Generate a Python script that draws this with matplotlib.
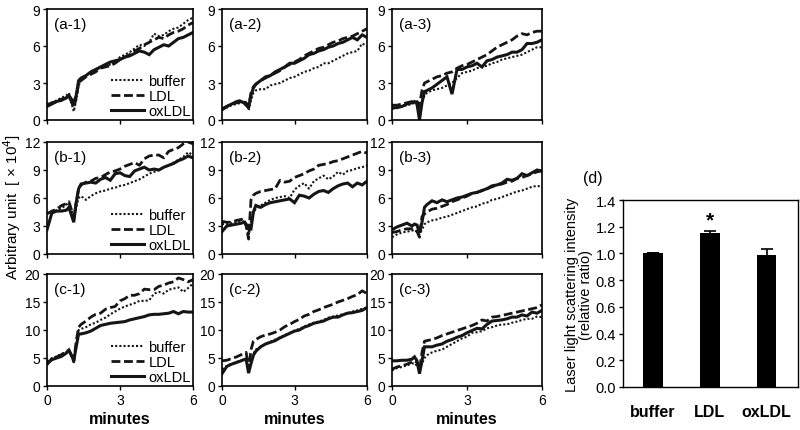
import matplotlib
matplotlib.use("Agg")
import matplotlib.pyplot as plt

plt.rcParams['font.family'] = ['Liberation Sans', 'DejaVu Sans']

# time points (minutes)
t = [0, 0.2, 0.4, 0.6, 0.8, 0.9, 1.0, 1.1, 1.2, 1.3, 1.4, 1.6, 1.8, 2.0, 2.2, 2.4,
     2.6, 2.8, 3.0, 3.2, 3.4, 3.6, 3.8, 4.0, 4.2, 4.4, 4.6, 4.8, 5.0, 5.2, 5.4, 5.6, 5.8, 6.0]

series_names = ["buffer", "LDL", "oxLDL"]

a1_buffer = [1.3,1.4,1.6,1.8,2.0,2.2,1.4,0.7,1.6,2.8,3.2,3.6,3.9,4.0,4.3,4.4,4.5,4.7,5.1,5.3,5.5,5.8,6.1,6.0,6.3,7.0,6.8,6.9,7.2,7.4,7.5,7.8,8.1,8.3]
a1_ldl    = [1.2,1.4,1.5,1.7,1.8,1.9,1.5,1.0,1.8,3.0,3.2,3.5,3.7,3.9,4.2,4.3,4.4,4.6,4.9,5.1,5.3,5.6,5.8,6.1,6.3,6.5,6.7,6.6,6.9,7.1,7.2,7.4,7.7,7.9]
a1_ox     = [1.1,1.3,1.5,1.6,1.8,2.0,1.7,1.4,2.0,3.2,3.4,3.6,3.9,4.1,4.3,4.5,4.7,4.8,4.9,5.1,5.2,5.4,5.6,5.5,5.3,5.7,5.9,6.1,6.0,6.3,6.6,6.7,6.9,7.1]

a2_buffer = [0.9,1.0,1.2,1.3,1.4,1.4,1.2,0.9,1.6,2.2,2.4,2.5,2.5,2.8,2.9,3.0,3.2,3.4,3.5,3.7,3.9,4.0,4.2,4.3,4.6,4.6,4.8,5.0,5.2,5.4,5.5,5.6,6.2,6.0]
a2_ldl    = [0.8,1.1,1.3,1.5,1.6,1.5,1.4,1.1,2.2,2.7,2.9,3.2,3.4,3.6,3.8,4.0,4.3,4.5,4.7,4.9,5.2,5.4,5.6,5.8,5.9,6.1,6.3,6.4,6.6,6.7,6.8,7.0,7.2,7.4]
a2_ox     = [0.9,1.1,1.3,1.4,1.5,1.4,1.2,1.0,2.0,2.6,2.9,3.2,3.5,3.6,3.9,4.1,4.3,4.6,4.6,4.8,5.0,5.3,5.4,5.6,5.7,5.9,6.0,6.2,6.3,6.5,6.7,6.5,6.9,6.7]

a3_buffer = [0.9,1.0,1.1,1.2,1.3,1.4,1.3,1.0,1.4,2.0,2.2,2.4,2.5,2.6,2.8,3.0,3.4,3.8,3.9,4.0,4.2,4.3,4.4,4.6,4.7,4.9,5.0,5.1,5.2,5.3,5.5,5.7,5.9,5.9]
a3_ldl    = [1.2,1.2,1.3,1.4,1.5,1.6,1.5,1.2,2.4,3.0,3.1,3.3,3.5,3.6,3.8,3.9,4.2,4.4,4.5,4.7,4.9,5.1,5.3,5.6,5.9,6.1,6.3,6.5,6.8,7.0,6.9,7.1,7.2,7.2]
a3_ox     = [1.0,1.0,1.1,1.3,1.4,1.5,1.3,0.0,1.4,2.3,2.4,2.6,2.9,3.2,3.5,2.1,4.1,4.1,4.3,4.4,4.6,4.3,4.8,4.9,5.1,5.2,5.3,5.5,5.5,5.7,6.2,6.2,6.3,6.5]

b1_buffer = [4.4,4.5,4.7,4.9,5.3,5.5,4.8,4.0,5.0,6.0,6.2,5.8,6.2,6.5,6.7,6.8,7.0,7.1,7.3,7.4,7.6,7.8,8.0,8.3,8.6,8.8,9.0,9.3,9.5,9.8,10.1,10.4,10.9,10.6]
b1_ldl    = [4.3,4.6,4.8,5.2,5.4,5.6,4.8,3.8,5.5,7.0,7.4,7.7,7.8,8.1,8.2,8.5,8.8,8.9,9.1,9.4,9.6,9.8,9.5,10.2,10.5,10.6,10.6,10.3,11.0,11.2,11.4,11.8,12.0,11.8]
b1_ox     = [2.6,4.4,4.6,4.6,4.7,5.0,4.2,3.4,5.5,7.0,7.5,7.6,7.7,7.6,8.0,8.2,7.9,8.6,8.7,8.4,8.3,8.9,9.1,9.3,9.0,9.1,9.0,9.3,9.5,9.7,10.0,10.2,10.5,10.3]

b2_buffer = [3.2,3.2,3.3,3.4,3.5,3.5,3.0,2.0,3.5,4.5,4.8,5.2,5.5,5.8,6.0,6.1,6.2,6.0,6.9,7.3,7.6,7.0,7.8,8.1,8.4,8.0,8.3,8.8,8.5,8.9,9.0,9.2,9.3,9.5]
b2_ldl    = [3.5,3.4,3.4,3.6,3.7,3.8,3.0,1.6,5.8,6.3,6.5,6.7,6.8,6.9,7.0,7.9,7.7,7.8,8.2,8.4,8.6,8.9,9.1,9.5,9.6,9.7,9.9,10.0,10.2,10.4,10.6,10.8,11.0,10.8]
b2_ox     = [2.4,3.0,3.1,3.2,3.3,3.4,3.2,2.8,2.7,4.5,5.2,5.0,5.3,5.5,5.6,5.7,5.8,5.9,5.5,6.3,6.2,6.0,6.4,6.7,6.8,6.6,7.0,7.3,7.5,7.6,7.2,7.6,7.4,7.8]

b3_buffer = [1.8,2.1,2.3,2.4,2.5,2.6,2.4,2.1,2.6,3.2,3.4,3.6,3.7,3.9,4.0,4.2,4.4,4.6,4.8,5.0,5.1,5.4,5.5,5.8,5.9,6.1,6.3,6.5,6.7,6.8,7.0,7.2,7.3,7.2]
b3_ldl    = [2.3,2.4,2.6,2.7,2.7,2.7,2.4,1.8,4.0,4.3,4.5,4.8,4.9,5.1,5.3,5.6,5.8,6.0,6.2,6.5,6.6,6.8,7.0,7.2,7.4,7.5,7.7,7.8,8.1,8.2,8.4,8.6,8.8,8.9]
b3_ox     = [2.6,2.9,3.1,3.3,3.0,3.2,3.1,2.3,3.4,5.0,5.3,5.7,5.5,5.8,5.6,5.8,6.0,6.1,6.3,6.5,6.6,6.8,7.0,7.3,7.4,7.6,8.0,7.9,8.1,8.6,8.4,8.7,9.0,8.9]

c1_buffer = [4.4,4.9,5.3,5.7,6.1,6.3,5.6,4.8,7.0,10.0,10.2,10.5,11.0,11.3,11.8,12.2,12.8,13.3,13.8,14.2,14.5,14.8,15.2,15.2,15.3,16.5,16.8,16.5,17.2,17.4,17.6,16.8,17.5,18.3]
c1_ldl    = [3.8,4.9,5.2,5.6,6.2,6.4,5.5,4.3,8.0,10.5,11.0,11.6,12.3,12.8,13.0,13.7,14.0,14.2,15.2,15.6,16.2,16.2,16.5,17.3,17.2,17.2,17.8,18.0,18.4,18.6,19.3,19.0,18.6,19.0]
c1_ox     = [4.0,4.7,5.0,5.3,5.9,6.4,5.5,4.5,7.0,9.3,9.3,9.5,9.8,10.3,10.8,11.0,11.2,11.3,11.4,11.5,11.8,12.0,12.2,12.4,12.7,12.8,12.8,12.9,13.0,13.3,12.9,13.3,13.2,13.2]

c2_buffer = [3.0,3.6,4.0,4.3,4.6,4.7,4.5,2.8,4.0,5.8,6.5,7.0,7.5,7.9,8.3,8.7,9.1,9.5,9.9,10.2,10.6,11.0,11.3,11.5,11.8,12.2,12.4,12.6,12.8,13.0,13.3,13.5,13.8,14.0]
c2_ldl    = [4.5,4.6,4.9,5.2,5.6,5.8,6.0,3.0,6.5,8.0,8.3,8.8,9.1,9.3,9.6,10.0,10.6,11.0,11.5,11.9,12.5,12.8,13.3,13.6,14.0,14.3,14.6,15.0,15.3,15.6,16.0,16.3,17.0,16.5]
c2_ox     = [2.2,3.5,3.9,4.2,4.5,4.7,4.8,2.3,4.0,5.5,6.2,7.0,7.5,7.8,8.1,8.6,9.0,9.4,9.8,10.0,10.5,10.8,11.2,11.4,11.6,12.0,12.3,12.3,12.7,13.0,13.1,13.3,13.5,14.0]

c3_buffer = [2.8,3.2,3.4,3.7,4.0,4.1,3.6,3.2,4.0,5.0,5.5,6.0,6.3,6.5,7.0,7.5,8.0,8.5,8.8,9.5,9.6,9.8,10.3,10.5,10.8,11.0,11.0,11.3,11.5,11.8,12.0,12.0,12.4,12.3]
c3_ldl    = [3.0,3.4,3.6,3.9,4.3,4.5,4.2,2.8,6.0,8.0,8.1,8.3,8.6,9.0,9.3,9.6,9.9,10.2,10.5,10.8,11.2,11.8,11.6,12.3,12.4,12.6,12.8,13.0,13.2,13.4,13.6,13.8,14.0,14.5]
c3_ox     = [4.5,4.5,4.6,4.6,4.8,5.2,4.5,2.2,4.5,7.0,7.0,7.0,7.3,7.5,8.0,8.3,8.7,9.0,9.5,9.9,10.3,10.2,11.0,11.6,11.7,11.8,12.0,12.3,12.3,12.7,12.5,13.2,13.0,13.5]

panel_labels = ["(a-1)", "(a-2)", "(a-3)", "(b-1)", "(b-2)", "(b-3)", "(c-1)", "(c-2)", "(c-3)"]
row_yticks = [[0, 3, 6, 9], [0, 3, 6, 9, 12], [0, 5, 10, 15, 20]]
x_ticks = [0, 3, 6]

# bar panel (d)
bar_cats = ["buffer", "LDL", "oxLDL"]
bar_vals = [1.0, 1.15, 0.99]
bar_err = [0.0, 0.02, 0.045]
d_yticks = [0.0, 0.2, 0.4, 0.6, 0.8, 1.0, 1.2, 1.4]

panel_data = [
    [a1_buffer, a1_ldl, a1_ox], [a2_buffer, a2_ldl, a2_ox], [a3_buffer, a3_ldl, a3_ox],
    [b1_buffer, b1_ldl, b1_ox], [b2_buffer, b2_ldl, b2_ox], [b3_buffer, b3_ldl, b3_ox],
    [c1_buffer, c1_ldl, c1_ox], [c2_buffer, c2_ldl, c2_ox], [c3_buffer, c3_ldl, c3_ox],
]

W, H = 800, 431
fig = plt.figure(figsize=(W / 100, H / 100), dpi=100)

col_px = [(47, 193), (222, 367), (392, 542)]
row_px = [(10, 121), (143, 255), (275, 387)]

line_color = "#151515"
styles = [
    dict(linestyle=(0, (1, 1)), linewidth=1.5),
    dict(linestyle=(0, (3.2, 1.3)), linewidth=2.0),
    dict(linestyle="-", linewidth=2.2),
]

def px_axes(x0, x1, y0, y1):
    return fig.add_axes([x0 / W, 1 - y1 / H, (x1 - x0) / W, (y1 - y0) / H])

for r in range(3):
    for c in range(3):
        idx = r * 3 + c
        ax = px_axes(col_px[c][0], col_px[c][1], row_px[r][0], row_px[r][1])
        for s in range(3):
            ax.plot(t, panel_data[idx][s], color=line_color, label=series_names[s],
                    solid_joinstyle="miter", **styles[s])
        yt = row_yticks[r]
        ax.set_xlim(0, 6)
        ax.set_ylim(yt[0], yt[-1])
        ax.set_yticks(yt)
        ax.set_xticks(x_ticks)
        ax.tick_params(direction="out", length=3, width=1, labelsize=10, pad=2)
        if r < 2:
            ax.set_xticklabels([])
        else:
            ax.set_xlabel("minutes", fontsize=11.5, fontweight="bold", labelpad=3)
        for sp in ax.spines.values():
            sp.set_linewidth(1.2)
        ax.text(0.05, 0.93, panel_labels[idx], transform=ax.transAxes,
                fontsize=11, va="top", ha="left")
        if c == 0:
            ax.legend(loc="lower right", frameon=False, fontsize=10.5,
                      handlelength=2.3, handletextpad=0.3, labelspacing=0.05,
                      borderaxespad=0.05, borderpad=0.1)

fig.text(12 / W, 1 - 207 / H, "Arbitrary unit  [ × 10$^4$]", rotation=90,
         ha="center", va="center", fontsize=11)

# panel (d)
axd = px_axes(623, 798, 201, 388)
xpos = list(range(len(bar_cats)))
axd.bar(xpos, bar_vals, width=0.34, color="black", yerr=bar_err,
        error_kw=dict(ecolor="black", elinewidth=1.2, capsize=4, capthick=1.2))
axd.set_xlim(-0.53, 2.55)
axd.set_ylim(0, 1.4)
axd.set_yticks(d_yticks)
axd.set_yticklabels([f"{v:.1f}" for v in d_yticks])
axd.set_xticks(xpos)
axd.set_xticklabels(bar_cats, fontweight="bold", fontsize=11.5)
axd.tick_params(axis="y", direction="out", length=3, width=1, labelsize=10.5, pad=2)
axd.tick_params(axis="x", length=0, pad=12)
for sp in axd.spines.values():
    sp.set_linewidth(1.0)
axd.text(1, 1.25, "*", ha="center", va="center", fontsize=15, fontweight="bold")
axd.set_ylabel("Laser light scattering intensity\n(relative ratio)", fontsize=10.5,
               labelpad=2, linespacing=1.0)
fig.text(583 / W, 1 - 179 / H, "(d)", fontsize=11.5, ha="left", va="center")

fig.savefig("out.png", dpi=100)
